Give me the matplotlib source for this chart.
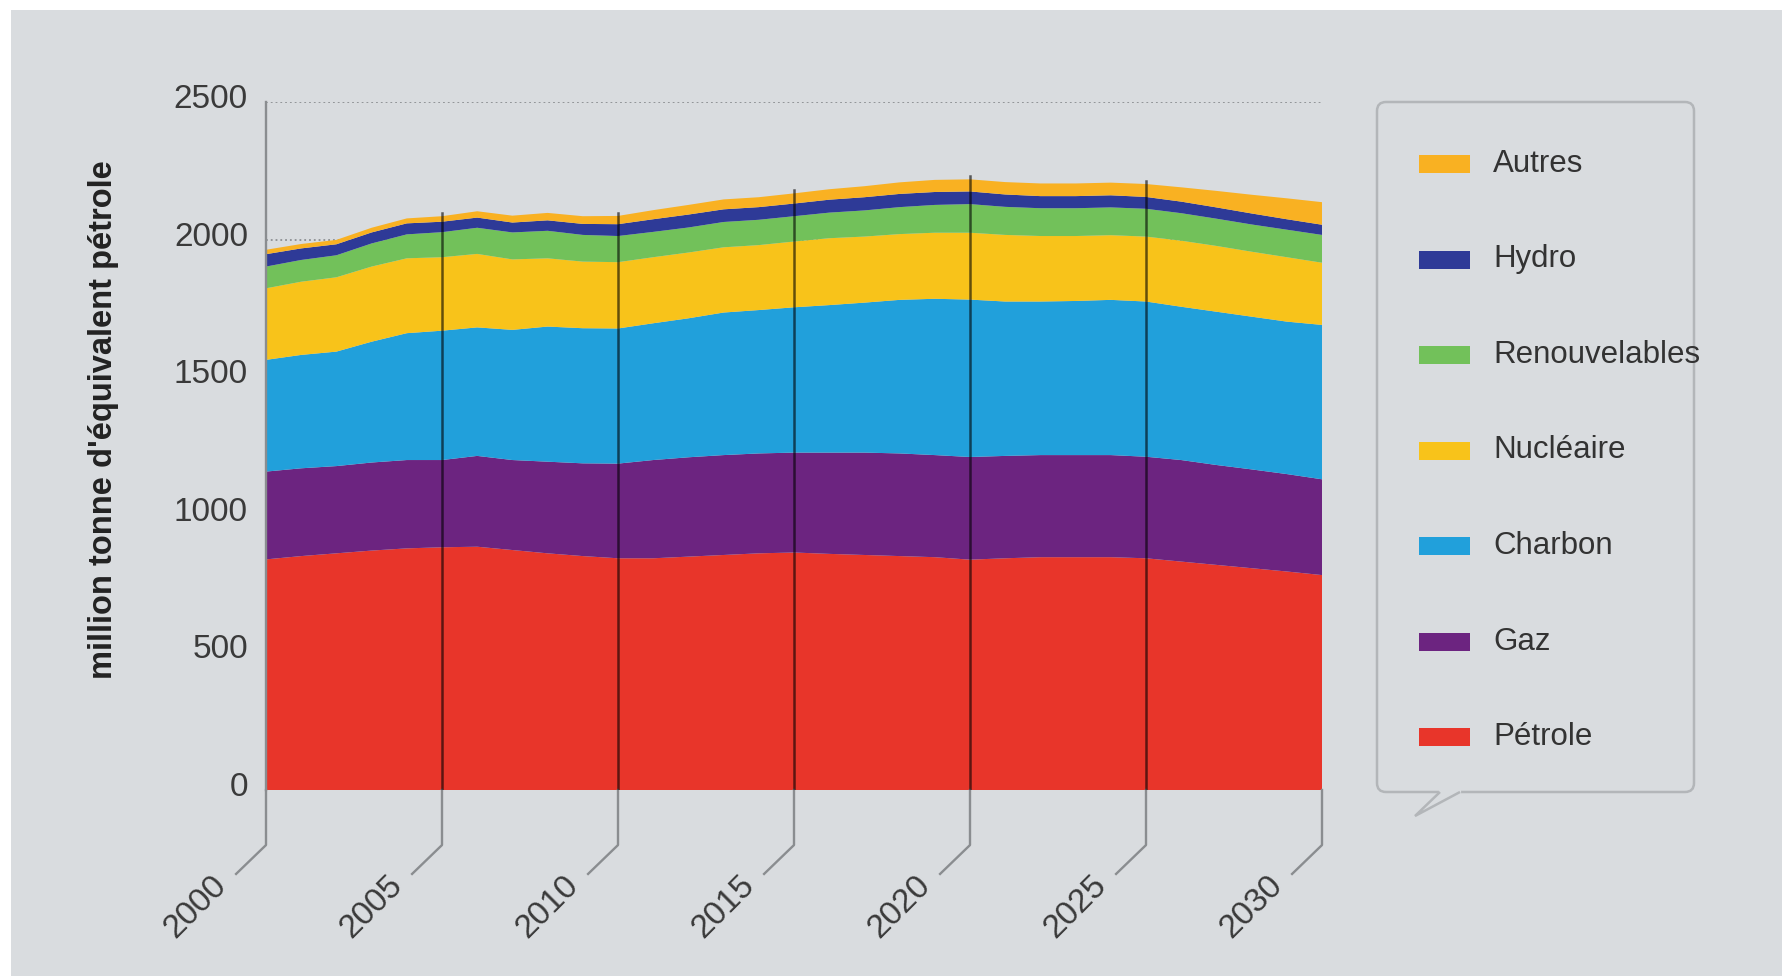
import matplotlib
matplotlib.use("Agg")
import matplotlib.pyplot as plt
import numpy as np
from matplotlib.patches import Rectangle, FancyBboxPatch, Polygon
from matplotlib.lines import Line2D
from matplotlib.transforms import IdentityTransform, ScaledTranslation

plt.rcParams['font.family'] = ['Liberation Sans', 'DejaVu Sans']

# données (million tonne d'équivalent pétrole)
annees = list(range(2000, 2031))
petrole = [838, 850, 860, 870, 878, 882, 884, 872, 860, 850, 842, 842, 848, 854, 860, 863,
           858, 854, 850, 846, 837, 842, 846, 846, 846, 842, 830, 818, 806, 794, 781]
gaz = [319, 319, 317, 320, 321, 317, 330, 327, 333, 337, 344, 357, 361, 363, 363, 363,
       368, 372, 373, 371, 373, 372, 371, 371, 371, 369, 369, 363, 359, 354, 348]
charbon = [406, 412, 416, 439, 461, 470, 467, 473, 491, 491, 491, 497, 505, 518, 521, 528,
           536, 545, 558, 568, 572, 561, 558, 560, 564, 564, 557, 557, 555, 554, 561]
nucleaire = [260, 266, 270, 273, 272, 267, 267, 256, 248, 242, 241, 240, 239, 237, 236, 239,
             243, 240, 239, 240, 243, 242, 238, 236, 235, 236, 240, 239, 236, 234, 226]
renouvelables = [79, 79, 80, 84, 87, 91, 95, 98, 100, 97, 95, 92, 91, 92, 92, 92,
                 93, 95, 98, 101, 104, 102, 101, 101, 101, 101, 100, 99, 99, 100, 101]
hydro = [45, 42, 40, 40, 40, 38, 37, 36, 38, 40, 43, 46, 47, 46, 46, 46,
         47, 48, 48, 47, 46, 45, 44, 44, 44, 43, 42, 41, 40, 38, 37]
autres = [16, 16, 16, 17, 18, 20, 23, 25, 27, 28, 30, 33, 35, 36, 36, 37,
          38, 40, 42, 44, 44, 45, 46, 46, 46, 47, 52, 60, 68, 76, 82]

noms = ['Pétrole', 'Gaz', 'Charbon', 'Nucléaire', 'Renouvelables', 'Hydro', 'Autres']
couleurs = ['#E8352A', '#6C2480', '#21A0DB', '#F8C31A', '#72C15A', '#2E3A97', '#F9B122']
ticks_x = [2000, 2005, 2010, 2015, 2020, 2025, 2030]
ticks_y = [0, 500, 1000, 1500, 2000, 2500]

W, H = 1783, 976
bg = '#D9DCDF'
gris = '#8a8d90'
texte = '#3a3a3a'

fig = plt.figure(figsize=(W / 100, H / 100), dpi=100)
fig.patch.set_facecolor('white')
fig.add_artist(Rectangle((11 / W, 0), 1, (H - 10) / H, transform=fig.transFigure,
                         facecolor=bg, edgecolor='none', zorder=0))

ax = fig.add_axes([266 / W, (H - 790) / H, 1056 / W, 688 / H])
ax.set_facecolor('none')
series = [petrole, gaz, charbon, nucleaire, renouvelables, hydro, autres]
ax.stackplot(annees, *series, colors=couleurs, lw=0, zorder=2)

ax.set_xlim(2000, 2030)
ax.set_ylim(0, 2500)
ax.set_yticks(ticks_y)
ax.set_xticks([])
ax.set_axisbelow(True)
ax.yaxis.grid(True, linestyle=':', color='#8c8f92', lw=1.3)
for s in ax.spines.values():
    s.set_visible(False)
ax.tick_params(axis='y', length=0, pad=13, labelsize=24, labelcolor=texte)
decal = ScaledTranslation(0, 6 / 100, fig.dpi_scale_trans)
for lab in ax.get_yticklabels():
    lab.set_transform(lab.get_transform() + decal)

#traits verticaux + repères en biais
total = np.sum(series, axis=0)
for yr in ticks_x:
    i = annees.index(yr)
    if yr == 2000:
        ax.plot([yr, yr], [0, 2500], color=gris, lw=1.7, zorder=4, clip_on=False)
    elif yr < 2030:
        ax.plot([yr, yr], [0, total[i] + 12], color='black', alpha=0.6, lw=1.8, zorder=4)
    ax.plot([yr, yr, yr - 0.85], [0, -0.08, -0.122], transform=ax.get_xaxis_transform(),
            color=gris, lw=1.7, clip_on=False)
    ax.annotate(str(yr), xy=(yr, 0), xycoords=('data', 'axes fraction'),
                xytext=(-32, -65), textcoords='offset points', rotation=45,
                rotation_mode='anchor', ha='right', va='center', fontsize=24, color=texte)

fig.text(104 / W, (H - 420) / H, "million tonne d'équivalent pétrole", rotation=90,
         ha='center', va='center', fontsize=23.5, fontweight='bold', color='#222222')

# légende en bulle
idt = IdentityTransform()
bord = '#b3b6b9'
fig.add_artist(FancyBboxPatch((1377, H - 792), 317, 690, boxstyle='round,pad=0,rounding_size=9',
                              transform=idt, facecolor=bg, edgecolor=bord, lw=1.8, zorder=1))
fig.add_artist(Line2D([1441, 1459], [H - 792, H - 792], color=bg, lw=3, transform=idt, zorder=2))
fig.add_artist(Polygon([(1440, H - 792), (1415, H - 816), (1460, H - 792)], closed=False,
                       transform=idt, facecolor=bg, edgecolor=bord, lw=1.8, zorder=2))
for k, j in enumerate(range(len(noms) - 1, -1, -1)):
    yc = 164 + 95.5 * k
    fig.add_artist(Rectangle((1419, H - yc - 9), 51, 18, transform=idt,
                             facecolor=couleurs[j], edgecolor='none', zorder=3))
    fig.text(1493 / W, (H - yc) / H, noms[j], ha='left', va='center',
             fontsize=22.5, color='#333333', zorder=3)

fig.savefig('out.png', dpi=100, facecolor='white')
